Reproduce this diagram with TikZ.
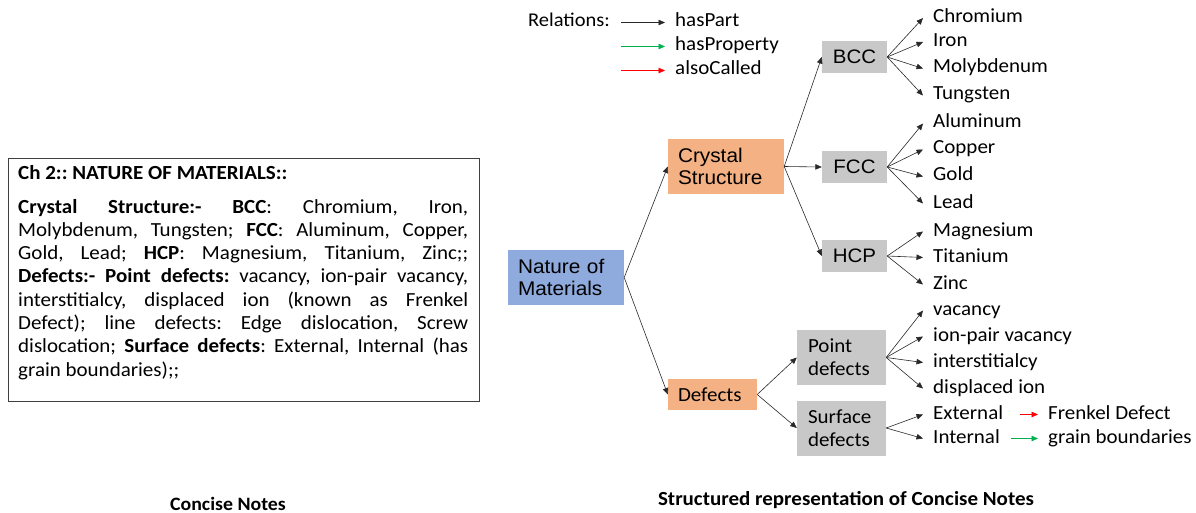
\documentclass[tikz,border=0pt]{standalone}
\usepackage{fontspec}
\setmainfont{Carlito}[FakeStretch=1.05]
\newfontfamily\arialf{Liberation Sans}[FakeStretch=1.05]
\usetikzlibrary{arrows.meta}
\definecolor{natblue}{RGB}{143,170,220}
\definecolor{orng}{RGB}{244,177,131}
\definecolor{gry}{RGB}{200,200,200}
\definecolor{grn}{RGB}{0,176,80}
\definecolor{lin}{RGB}{40,40,40}
\begin{document}
\frenchspacing
\begin{tikzpicture}[x=1pt,y=-1pt,
  arr/.style={-{Triangle[length=6.5pt,width=5.5pt]}, line width=0.6pt, draw=lin},
  bigbox/.style={inner xsep=10pt, inner ysep=0pt, minimum height=55pt, text width=96pt, align=left, font=\arialf\fontsize{19.8}{21.5}\selectfont},
  graybox/.style={fill=gry, inner sep=0pt, minimum width=65pt, minimum height=32pt, align=center, font=\arialf\fontsize{19.5}{21.5}\selectfont},
  defbox/.style={fill=gry, inner xsep=11pt, inner ysep=0pt, text width=67pt, minimum height=55pt, align=left, font=\fontsize{20}{23}\selectfont},
  leaf/.style={anchor=base west, inner xsep=10pt, inner ysep=0pt, text height=13pt, text depth=4pt, font=\fontsize{20}{23}\selectfont},
  caption/.style={anchor=base, inner sep=0pt}
]
\useasboundingbox (0,0) rectangle (1196,513);

% ---------- left notes box ----------
\draw[line width=1pt, draw=black!75] (8,159) rectangle (479,401);
\node[anchor=base west, inner sep=0pt, font=\bfseries\fontsize{20}{23.3}\selectfont] (title) at (18,179) {Ch 2:: NATURE OF MATERIALS::};
\node[anchor=base west, inner sep=0pt, text width=450pt, align=justify, font=\fontsize{20}{23.3}\selectfont] (notes) at (18,213)
{\frenchspacing\tolerance=10000\hyphenpenalty=10000\textbf{Crystal Structure:-} \textbf{BCC}: Chromium, Iron,\linebreak Molybdenum, Tungsten; \textbf{FCC}: Aluminum, Copper,\linebreak Gold, Lead; \textbf{HCP}: Magnesium, Titanium, Zinc;;\linebreak \textbf{Defects:- Point defects:} vacancy, ion-pair vacancy,\linebreak interstitialcy, displaced ion (known as Frenkel\linebreak Defect); line defects: Edge dislocation, Screw\linebreak dislocation; \textbf{Surface defects}: External, Internal (has\linebreak grain boundaries);;};

% ---------- legend ----------
\node[anchor=base west, inner sep=0pt, font=\fontsize{19.5}{23}\selectfont] (rel) at (528,27) {Relations:};
\coordinate (r1) at (621,22.5);
\coordinate (r2) at (621,46.5);
\coordinate (r3) at (621,70.5);
\node[leaf] (lhp) at (665,27) {hasPart};
\node[leaf] (lhpr) at (665,51) {hasProperty};
\node[leaf] (lac) at (665,75) {alsoCalled};
\draw[arr] (r1) -- (lhp.west);
\draw[arr, draw=grn] (r2) -- (lhpr.west);
\draw[arr, draw=red] (r3) -- (lac.west);

% ---------- main boxes ----------
\node[bigbox, fill=natblue] (nat) at (566,277.5) {Nature of\\Materials};
\node[bigbox, fill=orng] (cs) at (726,166.5) {Crystal\\Structure};
\node[fill=orng, inner xsep=10pt, inner ysep=0pt, text width=69pt, minimum height=31pt, align=left, font=\fontsize{20}{23}\selectfont] (def) at (712.5,394.5) {Defects};

\node[graybox] (bcc) at (854.5,57) {BCC};
\node[graybox] (fcc) at (854.5,167) {FCC};
\node[graybox] (hcp) at (854.5,256) {HCP};

\node[defbox] (pd) at (841.5,357.5) {Point\\defects};
\node[defbox] (sd) at (841.5,428) {Surface\\defects};

\draw[arr] (nat.east) -- (cs.west);
\draw[arr] (nat.east) -- (def.west);
\draw[arr] (cs.east) -- (bcc.west);
\draw[arr] (cs.east) -- (fcc.west);
\draw[arr] (cs.east) -- (hcp.west);
\draw[arr] (def.east) -- (pd.west);
\draw[arr] (def.east) -- (sd.west);

% ---------- leaves ----------
\node[leaf] (cr) at (923,22.5) {Chromium};
\node[leaf] (fe) at (923,46.5) {Iron};
\node[leaf] (mo) at (923,73) {Molybdenum};
\node[leaf] (w)  at (923,100) {Tungsten};
\node[leaf] (al) at (923,128) {Aluminum};
\node[leaf] (cu) at (923,154) {Copper};
\node[leaf] (au) at (923,181) {Gold};
\node[leaf] (pb) at (923,208) {Lead};
\node[leaf] (mg) at (923,236) {Magnesium};
\node[leaf] (ti) at (923,262) {Titanium};
\node[leaf] (zn) at (923,289) {Zinc};
\node[leaf] (vac) at (923,315) {vacancy};
\node[leaf] (ipv) at (923,341) {ion-pair vacancy};
\node[leaf] (int) at (923,367) {interstitialcy};
\node[leaf] (dis) at (923,393) {displaced ion};
\node[leaf] (ext) at (923,419) {External};
\node[leaf] (inl) at (923,443) {Internal};
\node[leaf] (frk) at (1038,419) {Frenkel Defect};
\node[leaf] (gb)  at (1038,443) {grain boundaries};

\foreach \t in {cr,fe,mo,w} {\draw[arr] (bcc.east) -- (\t.west);}
\foreach \t in {al,cu,au,pb} {\draw[arr] (fcc.east) -- (\t.west);}
\foreach \t in {mg,ti,zn} {\draw[arr] (hcp.east) -- (\t.west);}
\foreach \t in {vac,ipv,int,dis} {\draw[arr] (pd.east) -- (\t.west);}
\foreach \t in {ext,inl} {\draw[arr] (sd.east) -- (\t.west);}
\draw[arr, draw=red] ([xshift=7pt]ext.east) -- (frk.west);
\draw[arr, draw=grn] ([xshift=1pt]inl.east) -- (gb.west);

% ---------- captions ----------
\node[caption, font=\bfseries\fontsize{18.9}{22}\selectfont] (cap1) at (228,510) {Concise Notes};
\node[caption, font=\bfseries\fontsize{20}{22}\selectfont] (cap2) at (846,505) {Structured representation of Concise Notes};
\end{tikzpicture}
\end{document}
